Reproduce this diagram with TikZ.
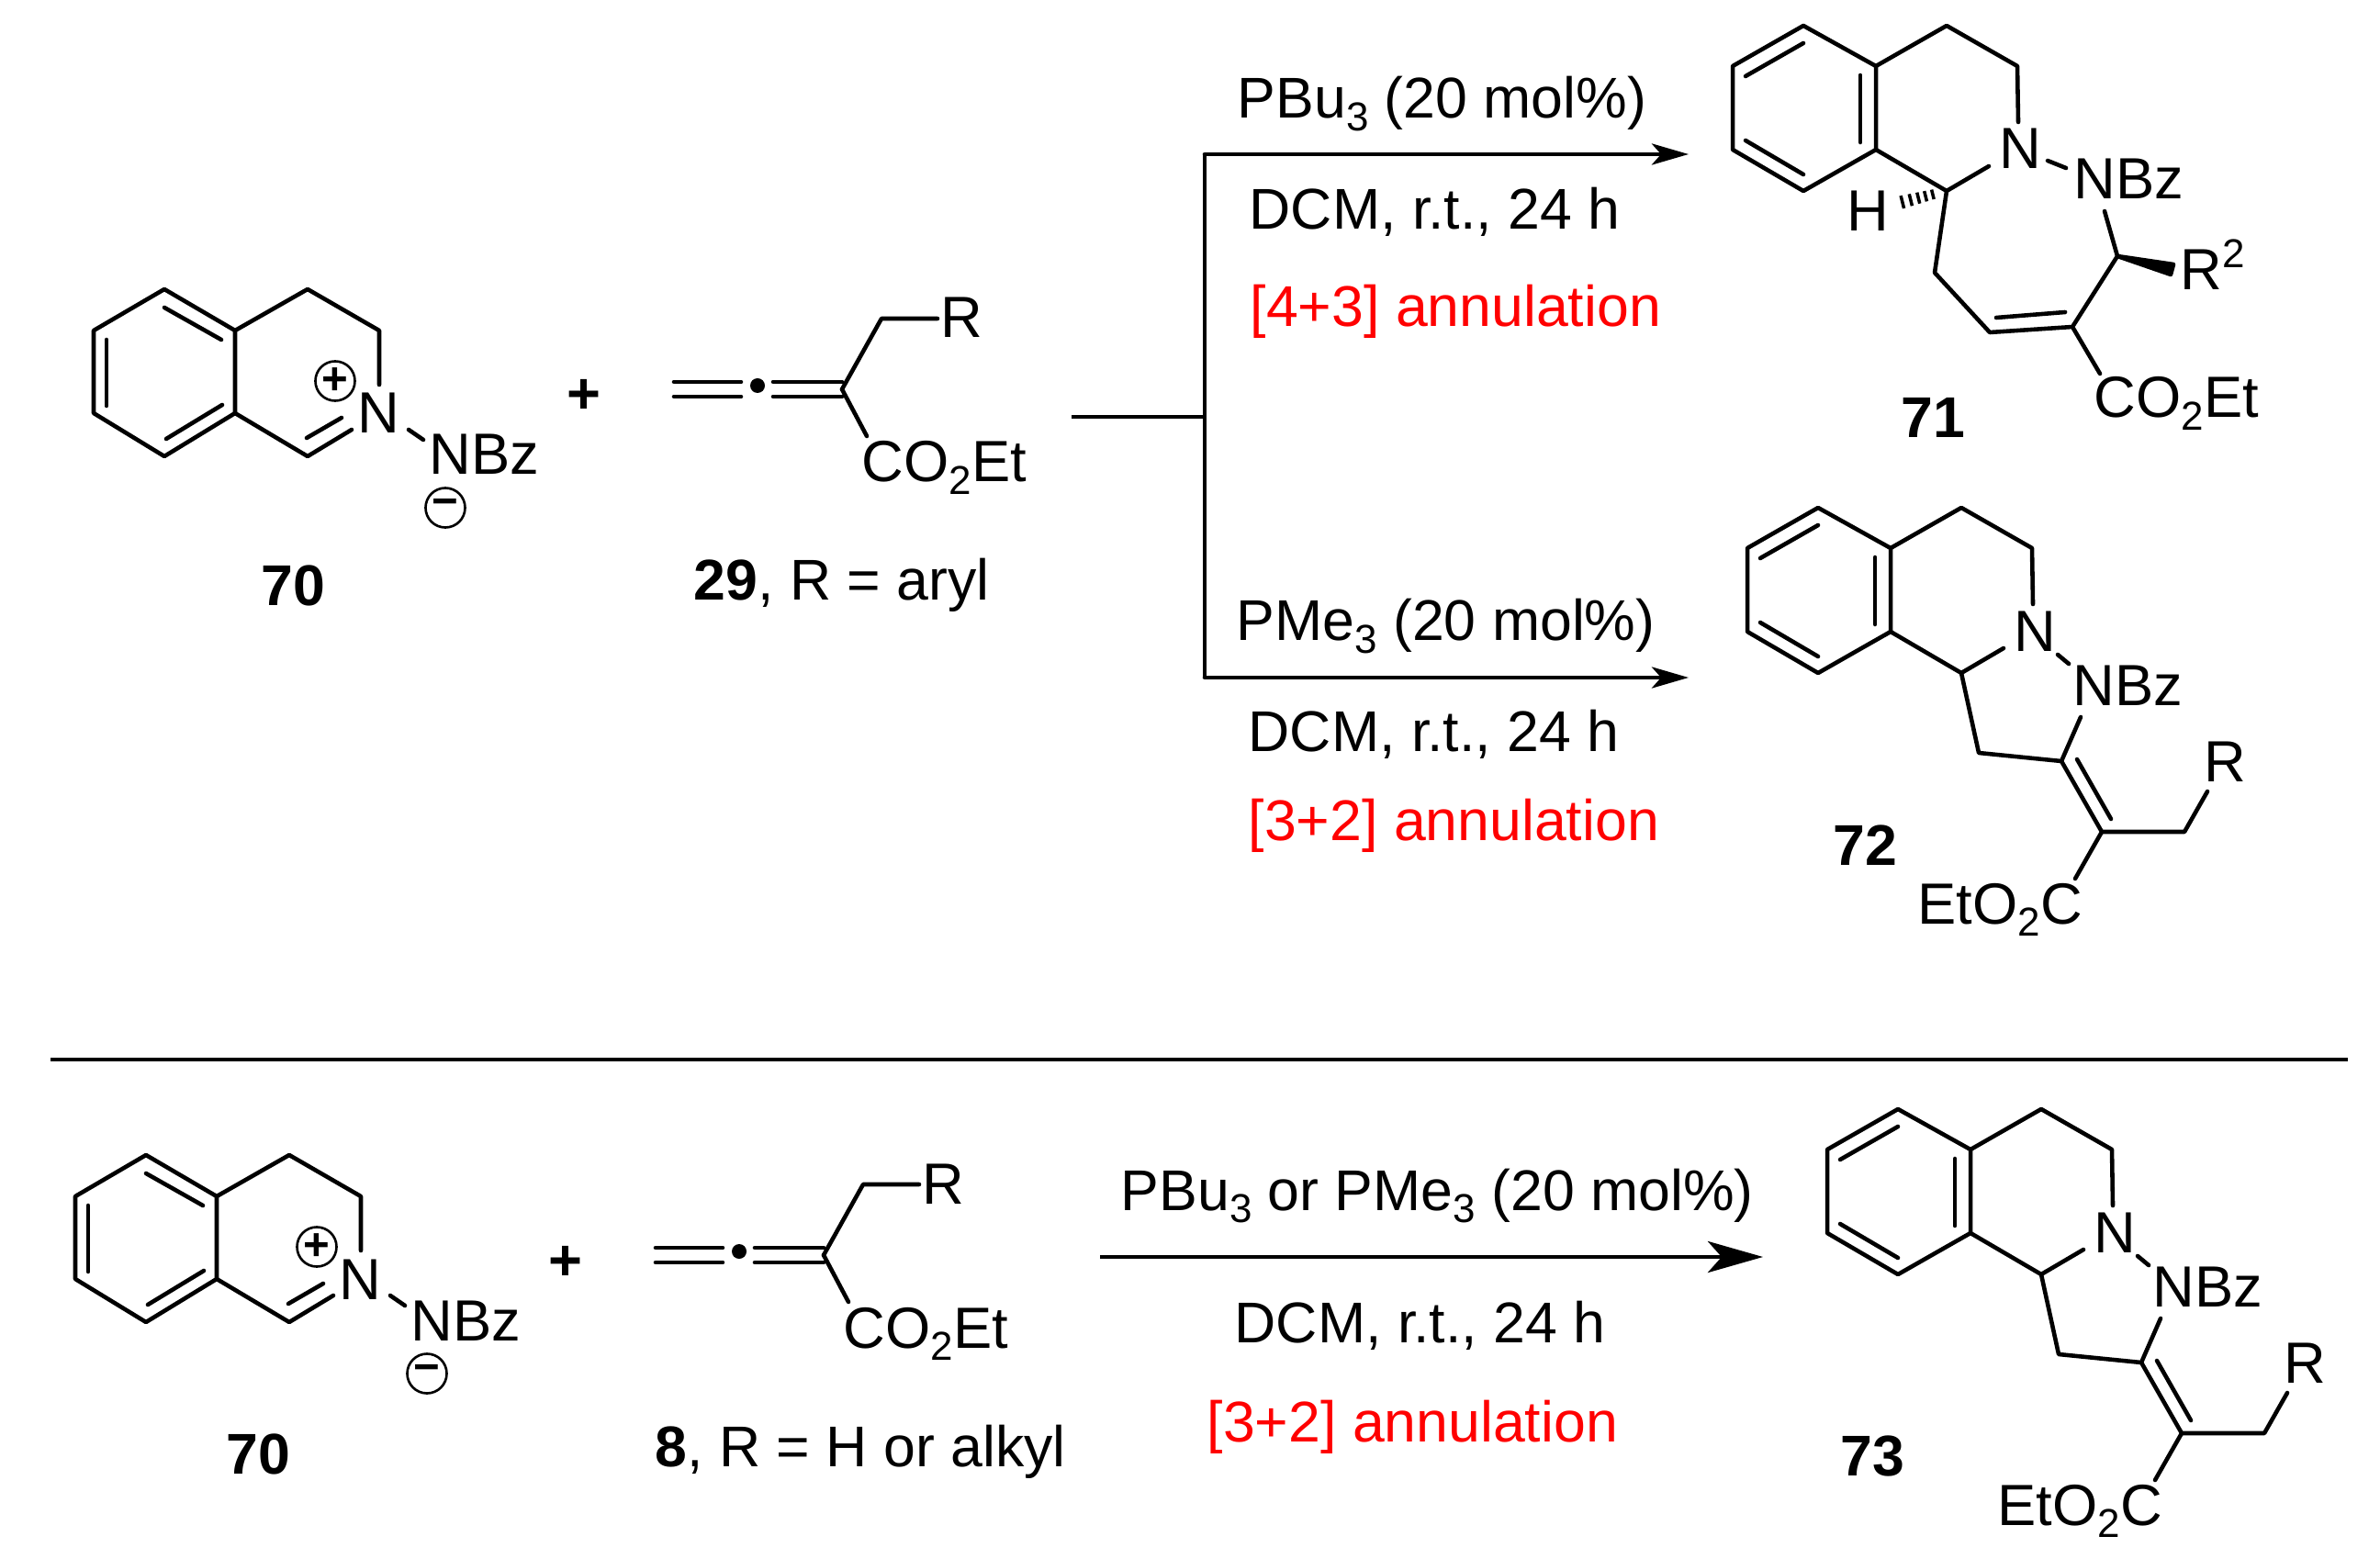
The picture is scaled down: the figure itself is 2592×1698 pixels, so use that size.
\documentclass[tikz,border=0pt]{standalone}
\usepackage{fontspec}
\setmainfont{Liberation Sans}
\usepackage{tikz}
\usetikzlibrary{arrows.meta,calc}
\newcommand{\lowtxt}[1]{\raisebox{-.22em}{\fontsize{12.5}{12}\selectfont #1}}
\newcommand{\hightxt}[1]{\raisebox{.39em}{\fontsize{12.5}{12}\selectfont #1}}
\tikzset{
  bond/.style={line width=1.3pt,line cap=round,line join=round},
  rxnline/.style={line width=1.1pt},
  atom/.style={inner sep=0pt,anchor=base west,font=\fontsize{18}{20}\selectfont},
  cmpd/.style={inner sep=0pt,anchor=base west,font=\fontsize{17.8}{20}\selectfont},
  cond/.style={inner sep=0pt,anchor=base west,font=\fontsize{17.8}{20}\selectfont},
  charge/.style={draw,circle,line width=.75pt,inner sep=0pt,minimum size=.43cm,font=\bfseries\fontsize{14}{14}\selectfont},
}
% benzene + N ring of the products
\newcommand{\fusedrings}{
\coordinate (b1) at (1964,28);
\coordinate (b2) at (1887,72);
\coordinate (b3) at (1887,163);
\coordinate (b4) at (1964,208);
\coordinate (b5) at (2043,163);
\coordinate (b6) at (2043,72);
\coordinate (c1) at (2120,28);
\coordinate (c2) at (2197,72);
\coordinate (c3) at (2198,133);
\coordinate (ch) at (2120,208);
\coordinate (c4) at (2166,181);
\coordinate (d1) at (1901,83);
\coordinate (d2) at (1964,47);
\coordinate (d3) at (2026,82);
\coordinate (d4) at (2026,155);
\coordinate (d5) at (1901,153);
\coordinate (d6) at (1964,190);
\node[atom] (n) at (2177,184) {N};
\draw[bond] (b1) -- (b2) -- (b3) -- (b4) -- (b5) -- (b6) -- cycle;
\draw[bond] (b6) -- (c1) -- (c2) -- (c3);
\draw[bond] (b5) -- (ch) -- (c4);
\draw[bond] (d1) -- (d2);
\draw[bond] (d3) -- (d4);
\draw[bond] (d5) -- (d6);
}
% five-membered ring and side chain of the [3+2] products
\newcommand{\pyrazolidine}{
\coordinate (e1) at (2225,188);
\coordinate (e2) at (2237,198);
\coordinate (e3) at (2250,256);
\coordinate (e4) at (2229,304);
\coordinate (e5) at (2139,295);
\coordinate (e6) at (2273,381);
\coordinate (e7) at (2246,302);
\coordinate (e8) at (2283,367);
\coordinate (e9) at (2363,381);
\coordinate (e10) at (2388,337);
\coordinate (e11) at (2244,432);
\node[atom] (nbz) at (2241,243) {NBz};
\node[atom] (r) at (2384,326) {R};
\node[atom] (ester) at (2072,481) {EtO\lowtxt{2}C};
\draw[bond] (e1) -- (e2);
\draw[bond] (e3) -- (e4) -- (e5) -- (ch);
\draw[bond] (e4) -- (e6) -- (e9) -- (e10);
\draw[bond] (e7) -- (e8);
\draw[bond] (e6) -- (e11);
}
% starting imide
\newcommand{\ylide}{
\coordinate (a1) at (179,315);
\coordinate (a2) at (102,360);
\coordinate (a3) at (102,450);
\coordinate (a4) at (179,497);
\coordinate (a5) at (256,450);
\coordinate (a6) at (256,360);
\coordinate (a7) at (335,315);
\coordinate (a8) at (413,360);
\coordinate (a9) at (413,419);
\coordinate (a10) at (335,497);
\coordinate (a11) at (383,468);
\coordinate (f1) at (179,335);
\coordinate (f2) at (241,370);
\coordinate (f3) at (116,370);
\coordinate (f4) at (116,442);
\coordinate (f5) at (181,478);
\coordinate (f6) at (242,441);
\coordinate (f7) at (334,477);
\coordinate (f8) at (372,455);
\coordinate (f9) at (445,468);
\coordinate (f10) at (461,479);
\node[atom] (n) at (389,472) {N};
\node[atom] (nbz) at (467,517) {NBz};
\node[charge] (plus) at (365,415) {+};
\node[charge] (minus) at (485,553) {\char"2212};
\draw[bond] (a1) -- (a2) -- (a3) -- (a4) -- (a5) -- (a6) -- cycle;
\draw[bond] (a6) -- (a7) -- (a8) -- (a9);
\draw[bond] (a5) -- (a10) -- (a11);
\draw[bond] (f1) -- (f2);
\draw[bond] (f3) -- (f4);
\draw[bond] (f5) -- (f6);
\draw[bond] (f7) -- (f8);
\draw[bond] (f9) -- (f10);
}
% allene partner
\newcommand{\allene}{
\coordinate (g1) at (734,416);
\coordinate (g2) at (807,416);
\coordinate (g3) at (734,432);
\coordinate (g4) at (807,432);
\coordinate (g5) at (842,416);
\coordinate (g6) at (917,416);
\coordinate (g7) at (842,432);
\coordinate (g8) at (917,432);
\coordinate (g9) at (917,424);
\coordinate (g10) at (960,347);
\coordinate (g11) at (1021,347);
\coordinate (g12) at (944,475);
\node[atom] (r) at (1024,368) {R};
\node[atom] (ester) at (938,525) {CO\lowtxt{2}Et};
\fill (825,420) circle[radius=8] coordinate (dot);
\draw[bond] (g1) -- (g2);
\draw[bond] (g3) -- (g4);
\draw[bond] (g5) -- (g6);
\draw[bond] (g7) -- (g8);
\draw[bond] (g9) -- (g10) -- (g11);
\draw[bond] (g9) -- (g12);
}

\begin{document}
\begin{tikzpicture}[x=.01cm,y=-.01cm]
\useasboundingbox (0,0) rectangle (2592,1698);

% first scheme, reactants
\begin{scope}[name prefix=top-]
\ylide
\allene
\node[atom] (add) at (617,451) {\textbf{+}};
\end{scope}
\node[cmpd] (l70) at (284,660) {\textbf{70}};
\node[cmpd] (l29) at (755,653) {\textbf{29}, R = aryl};

% branching arrows
\coordinate (split0) at (1167,454);
\coordinate (split1) at (1312,454);
\coordinate (split2) at (1312,168);
\coordinate (split3) at (1312,738);
\coordinate (tip1) at (1839,168);
\coordinate (tip2) at (1839,738);
\draw[rxnline] (split0) -- (split1);
\draw[bond,line cap=butt] (split2) -- (split3);
\draw[bond,-{Stealth[length=.4cm,width=.23cm,inset=.1cm]}] (split2) -- (tip1);
\draw[bond,-{Stealth[length=.4cm,width=.23cm,inset=.1cm]}] (split3) -- (tip2);
\node[cond] (cat1) at (1347,129) {PBu\lowtxt{3} (20 mol\%)};
\node[cond] (sol1) at (1360,250) {DCM, r.t., 24 h};
\node[cond,text=red] (ann1) at (1361,356) {[4+3] annulation};
\node[cond] (cat2) at (1346,698) {PMe\lowtxt{3} (20 mol\%)};
\node[cond] (sol2) at (1359,818) {DCM, r.t., 24 h};
\node[cond,text=red] (ann2) at (1359,915) {[3+2] annulation};

% product 71
\begin{scope}[name prefix=p71-]
\fusedrings
\coordinate (h1) at (2230,175);
\coordinate (h2) at (2250,183);
\coordinate (h3) at (2292,230);
\coordinate (h4) at (2306,279);
\coordinate (h5) at (2257,356);
\coordinate (h6) at (2167,362);
\coordinate (h7) at (2107,297);
\coordinate (h8) at (2249,340);
\coordinate (h9) at (2174,346);
\coordinate (h10) at (2287,407);
\coordinate (w1) at (2367,288);
\coordinate (w2) at (2364,299);
\coordinate (hend) at (2064,222);
\node[atom] (nbz) at (2258,217) {NBz};
\node[atom] (r) at (2374,316) {R\hightxt{2}};
\node[atom] (h) at (2011,252) {H};
\node[atom] (ester) at (2280,455) {CO\lowtxt{2}Et};
\draw[bond] (h1) -- (h2);
\draw[bond] (h3) -- (h4) -- (h5) -- (h6) -- (h7) -- (ch);
\draw[bond] (h8) -- (h9);
\draw[bond] (h5) -- (h10);
\filldraw[bond] (h4) -- (w1) -- (w2) -- cycle;
\foreach \pos in {.27,.41,.55,.70,.86,1} {
  \pgfmathsetmacro{\halfw}{1.3+.85*\pos}
  \draw[line width=1pt] ($(ch)!\pos!(hend)!\halfw pt!90:(hend)$) -- ($(ch)!\pos!(hend)!\halfw pt!-90:(hend)$);
}
\end{scope}
\node[cmpd] (l71) at (2070,477) {\textbf{71}};

% product 72
\begin{scope}[shift={(16,525)},name prefix=p72-]
\fusedrings
\pyrazolidine
\end{scope}
\node[cmpd] (l72) at (1996,942) {\textbf{72}};

% separator
\coordinate (sep1) at (55,1154);
\coordinate (sep2) at (2557,1154);
\draw[rxnline] (sep1) -- (sep2);

% second scheme
\begin{scope}[shift={(-20,943)},name prefix=low-]
\ylide
\allene
\node[atom] (add) at (617,451) {\textbf{+}};
\end{scope}
\node[cmpd] (l70b) at (246,1605) {\textbf{70}};
\node[cmpd] (l8) at (713,1597) {\textbf{8}, R = H or alkyl};

\coordinate (start3) at (1198,1369);
\coordinate (tip3) at (1920,1369);
\draw[line width=1.4pt,-{Stealth[length=.6cm,width=.34cm,inset=.15cm]}] (start3) -- (tip3);
\node[cond] (cat3) at (1220,1318) {PBu\lowtxt{3} or PMe\lowtxt{3} (20 mol\%)};
\node[cond] (sol3) at (1344,1462) {DCM, r.t., 24 h};
\node[cond,text=red] (ann3) at (1314,1570) {[3+2] annulation};

% product 73
\begin{scope}[shift={(103,1180)},name prefix=p73-]
\fusedrings
\pyrazolidine
\end{scope}
\node[cmpd] (l73) at (2004,1607) {\textbf{73}};
\end{tikzpicture}
\end{document}
